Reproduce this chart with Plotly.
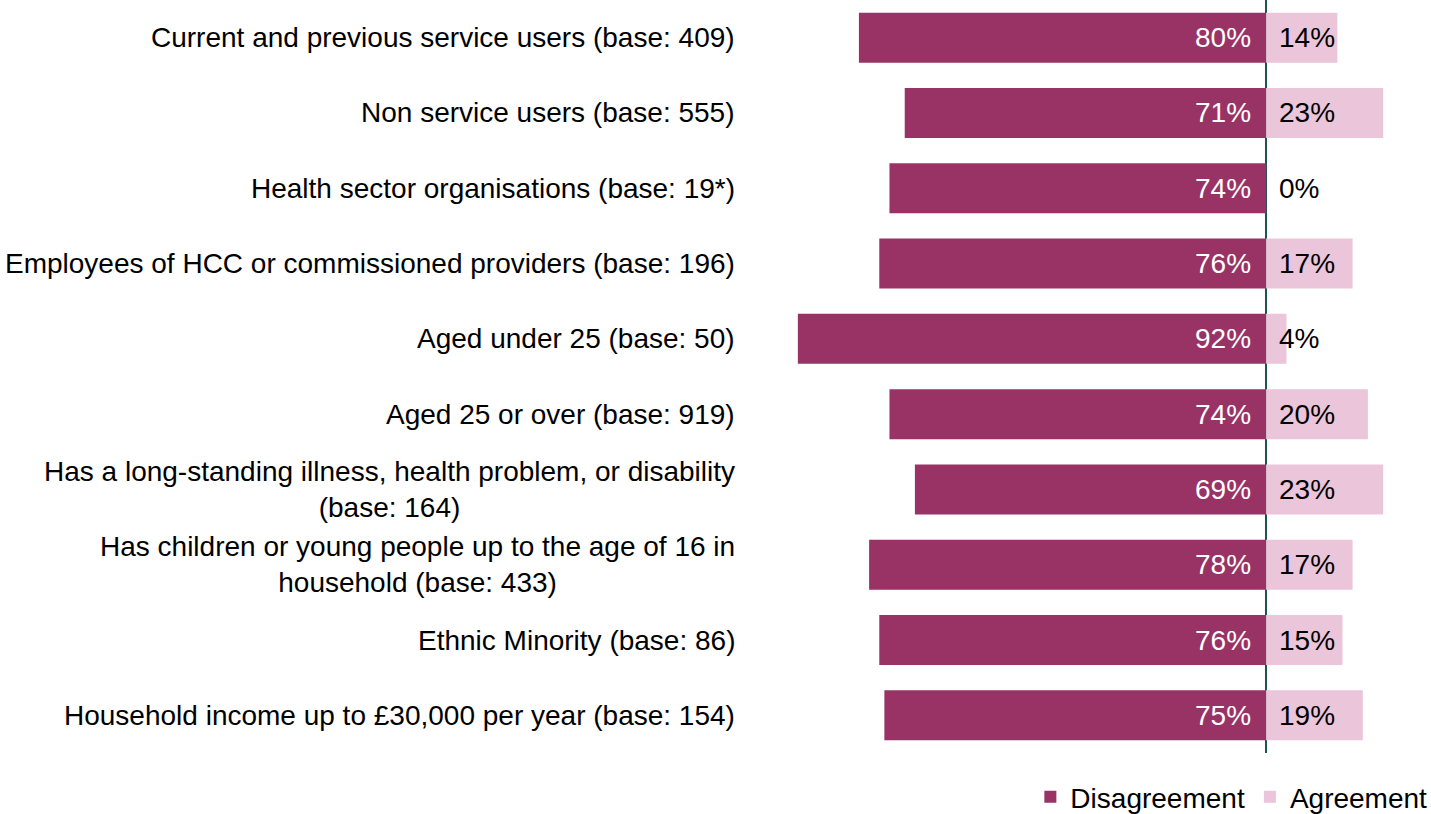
import plotly.graph_objects as go

categories = [
    "Current and previous service users (base: 409)",
    "Non service users (base: 555)",
    "Health sector organisations (base: 19*)",
    "Employees of HCC or commissioned providers (base: 196)",
    "Aged under 25 (base: 50)",
    "Aged 25 or over (base: 919)",
    "Has a long-standing illness, health problem, or disability<br>(base: 164)",
    "Has children or young people up to the age of 16 in<br>household (base: 433)",
    "Ethnic Minority (base: 86)",
    "Household income up to £30,000 per year (base: 154)",
]
disagreement = [80, 71, 74, 76, 92, 74, 69, 78, 76, 75]
agreement = [14, 23, 0, 17, 4, 20, 23, 17, 15, 19]

DARK = "#993366"
LIGHT = "#EBC5D9"
FONT = "Liberation Sans, Arial, sans-serif"
FS = 28

fig = go.Figure()
fig.add_trace(go.Bar(
    y=categories, x=[-v for v in disagreement], orientation="h",
    name="Disagreement", marker=dict(color=DARK, line=dict(width=0)),
    hovertemplate="%{y}: %{customdata}%<extra>Disagreement</extra>",
    customdata=disagreement,
))
fig.add_trace(go.Bar(
    y=categories, x=agreement, orientation="h",
    name="Agreement", marker=dict(color=LIGHT, line=dict(width=0)),
    hovertemplate="%{y}: %{x}%<extra>Agreement</extra>",
))

annotations = []
for cat, d, a in zip(categories, disagreement, agreement):
    annotations.append(dict(
        x=0, y=cat, xref="x", yref="y", text=f"{d}%", showarrow=False,
        xanchor="right", xshift=-13, font=dict(color="white", size=FS, family=FONT),
    ))
    annotations.append(dict(
        x=0, y=cat, xref="x", yref="y", text=f"{a}%", showarrow=False,
        xanchor="left", xshift=11, font=dict(color="black", size=FS, family=FONT),
    ))
    annotations.append(dict(
        x=0, y=cat, xref="paper", yref="y", text=cat, showarrow=False,
        xanchor="right", align="center", xshift=-13,
        font=dict(color="black", size=FS, family=FONT),
    ))

fig.update_layout(
    width=1431, height=814,
    barmode="relative", bargap=0.336,
    plot_bgcolor="white", paper_bgcolor="white",
    margin=dict(l=750, r=0, t=0, b=61, pad=0, autoexpand=False),
    font=dict(family=FONT, size=FS, color="black"),
    xaxis=dict(range=[-101.4, 32.4], showgrid=False, showticklabels=False,
               zeroline=True, zerolinecolor="#1F5456", zerolinewidth=1.5, fixedrange=True),
    yaxis=dict(range=[9.5, -0.5], showgrid=False, showticklabels=False,
               zeroline=False, fixedrange=True),
    legend=dict(orientation="h", x=1.002, xanchor="right", y=-0.0584, yanchor="middle",
                font=dict(size=FS, family=FONT), traceorder="normal",
                itemwidth=30, bgcolor="rgba(0,0,0,0)"),
    annotations=annotations,
    showlegend=True,
)

fig.write_html("out.html", config={"displayModeBar": False},
               post_script="document.body.style.margin='0';document.body.style.overflow='hidden';")
